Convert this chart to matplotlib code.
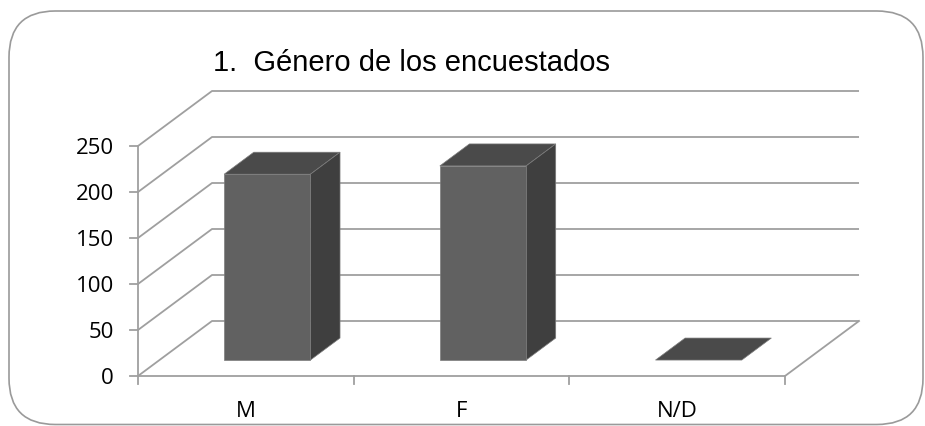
import matplotlib
matplotlib.use("Agg")
import matplotlib.pyplot as plt
from matplotlib.patches import Polygon, FancyBboxPatch

categories = ["M", "F", "N/D"]
counts = [202, 211, 0]
y_ticks = [0, 50, 100, 150, 200, 250]
title = "1.  Género de los encuestados"

W, H = 925, 427
fig = plt.figure(figsize=(W / 100, H / 100), dpi=100, facecolor="white")
ax = fig.add_axes([0, 0, 1, 1])
ax.axis("off")

# pixel layout of the front plane: category 0 starts at x=138, value 0 sits 50px above the bottom
x0_px, cat_px = 138, 215.67
y0_px, unit_px = 50, 0.92
ax.set_xlim(-x0_px / cat_px, (W - x0_px) / cat_px)
ax.set_ylim(-y0_px / unit_px, (H - y0_px) / unit_px)

# oblique depth of the 3-D floor, in data units
DX, DY = 74 / cat_px, 55 / unit_px
ncat = len(categories)
grid_c = "#9f9f9f"
ymax = y_ticks[-1]
lab_font = dict(fontsize=16, family="Open Sans", color="black")

# walls: gridlines run up the left wall and across the back wall
for v in y_ticks:
    ax.plot([0, DX, ncat + DX], [v, v + DY, v + DY], color=grid_c, lw=1.3, zorder=1,
            solid_capstyle="butt")
# floor front and right edges
ax.plot([0, ncat, ncat + DX], [0, 0, DY], color=grid_c, lw=1.3, zorder=1)
# value axis and ticks
ax.plot([0, 0], [-8 / unit_px, ymax], color=grid_c, lw=1.3, zorder=1)
tick_x = 8 / cat_px
for v in y_ticks:
    ax.plot([-tick_x, 0], [v, v], color=grid_c, lw=1.3, zorder=1)
    ax.annotate(str(v), xy=(0, v), xytext=(-17.5, -1), textcoords="offset points",
                ha="right", va="center", **lab_font)
for i in range(1, ncat + 1):
    ax.plot([i, i], [0, -8 / unit_px], color=grid_c, lw=1.3, zorder=1)

# bars: front face, side face and top of each box
bw, f0, f1 = 0.4, 0.29, 0.69
front_c, side_c, top_c, edge_c = "#616161", "#3f3f3f", "#4a4a4a", "#7c7c7c"
for i, (cat, val) in enumerate(zip(categories, counts)):
    xl = i + 0.5 - bw / 2 + f0 * DX
    xr = xl + bw
    yb = f0 * DY
    yt = yb + val
    ddx, ddy = (f1 - f0) * DX, (f1 - f0) * DY
    top = Polygon([(xl, yt), (xr, yt), (xr + ddx, yt + ddy), (xl + ddx, yt + ddy)],
                  closed=True, facecolor=top_c, edgecolor=edge_c, lw=0.5, zorder=3)
    ax.add_patch(top)
    if val > 0:
        side = Polygon([(xr, yb), (xr + ddx, yb + ddy), (xr + ddx, yt + ddy), (xr, yt)],
                       closed=True, facecolor=side_c, edgecolor=edge_c, lw=0.5, zorder=3)
        front = Polygon([(xl, yb), (xr, yb), (xr, yt), (xl, yt)],
                        closed=True, facecolor=front_c, edgecolor=edge_c, lw=0.5, zorder=4)
        ax.add_patch(side)
        ax.add_patch(front)
    ax.annotate(cat, xy=(i + 0.5, 0), xytext=(0, -24.5), textcoords="offset points",
                ha="center", va="center", **lab_font)

fig.text(411.5 / W, 1 - 63 / H, title, ha="center", va="center",
         fontsize=21, family="Liberation Sans", color="black")

# rounded chart-area border
border = FancyBboxPatch((9 / W, 1.5 / H), 914 / W, 413.5 / H,
                        boxstyle="round,pad=0,rounding_size=0.05",
                        transform=fig.transFigure, facecolor="none",
                        edgecolor="#9a9a9a", lw=1.2, mutation_aspect=W / H)
fig.patches.append(border)

fig.savefig("out.png", dpi=100, facecolor="white")
